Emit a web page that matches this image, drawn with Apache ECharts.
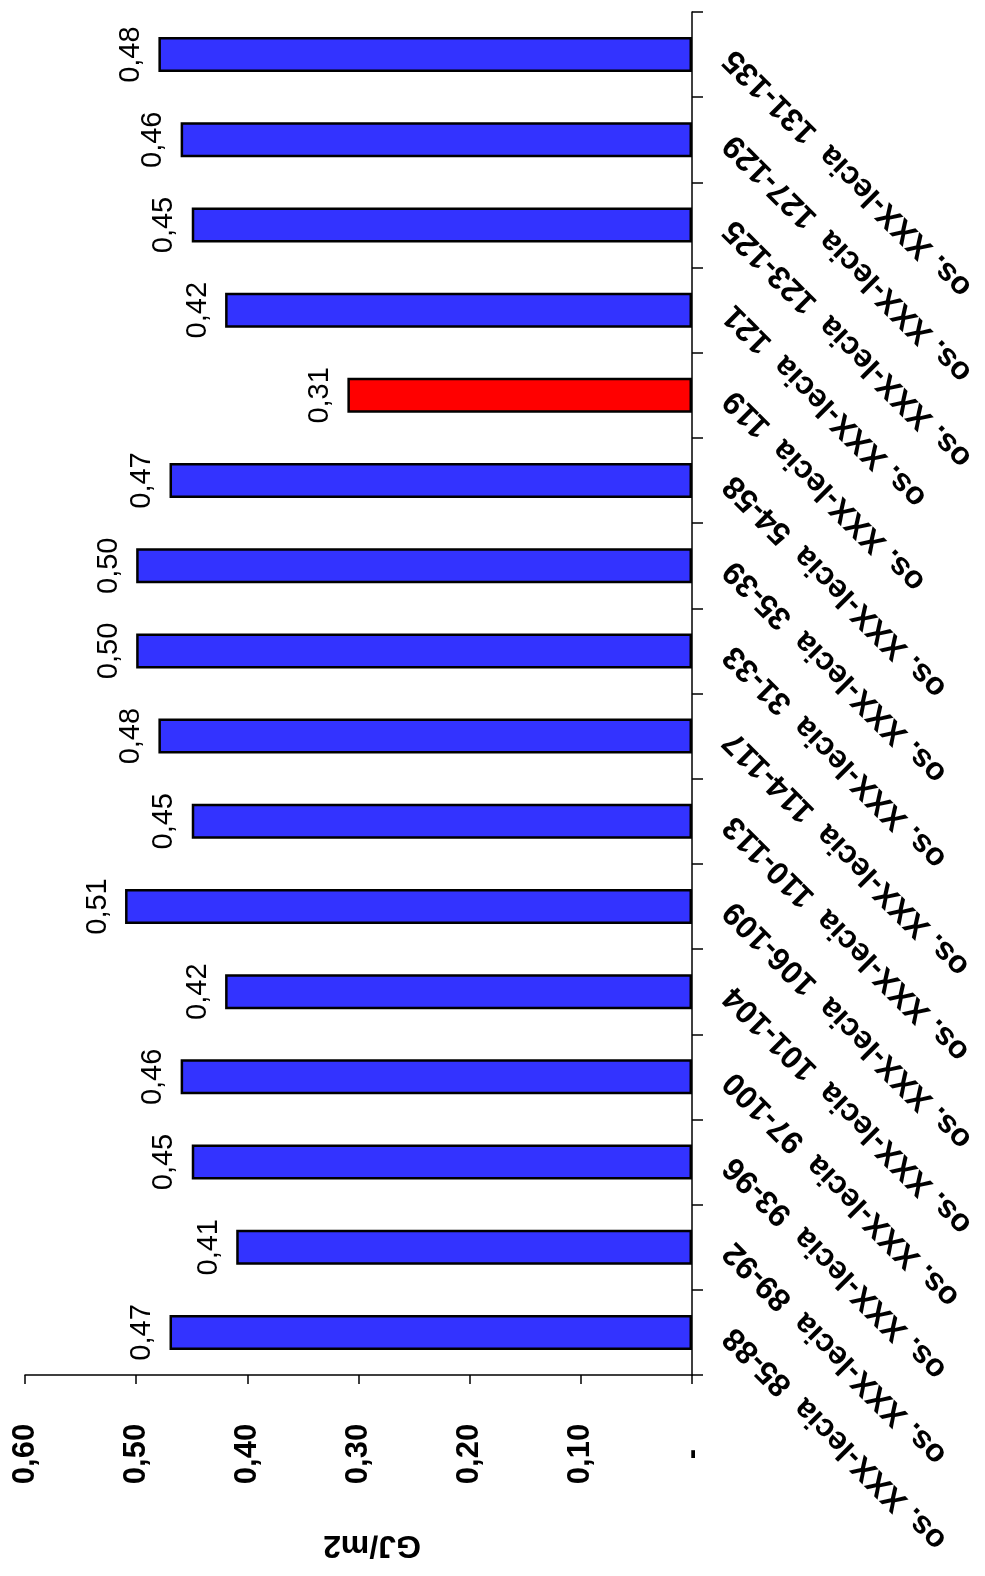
<!DOCTYPE html>
<html>
<head>
<meta charset="utf-8">
<title>GJ/m2</title>
<script src="https://cdn.jsdelivr.net/npm/echarts@6/dist/echarts.min.js"></script>
<style>
  html, body { margin: 0; padding: 0; background: #ffffff; }
  #chart { width: 985px; height: 1576px; }
</style>
</head>
<body>
<div id="chart"></div>
<script>
// Building names (listed from the first bar to the last)
const categories = [
  'os. XXX-lecia  85-88',
  'os. XXX-lecia  89-92',
  'os. XXX-lecia  93-96',
  'os. XXX-lecia  97-100',
  'os. XXX-lecia  101-104',
  'os. XXX-lecia  106-109',
  'os. XXX-lecia  110-113',
  'os. XXX-lecia  114-117',
  'os. XXX-lecia  31-33',
  'os. XXX-lecia  35-39',
  'os. XXX-lecia  54-58',
  'os. XXX-lecia  119',
  'os. XXX-lecia  121',
  'os. XXX-lecia  123-125',
  'os. XXX-lecia  127-129',
  'os. XXX-lecia  131-135'
];

// Heat consumption per m2 [GJ/m2]
const values = [0.47, 0.41, 0.45, 0.46, 0.42, 0.51, 0.45, 0.48, 0.50, 0.50, 0.47, 0.31, 0.42, 0.45, 0.46, 0.48];

// Building shown in red
const highlighted = ['os. XXX-lecia  119'];

// Value axis range
const axisMin = 0;
const axisMax = 0.6;
const axisStep = 0.1;
const axisTitle = 'GJ/m2';

const FONT = "'Liberation Sans', Arial, sans-serif";
const fmt = v => v.toFixed(2).replace('.', ',');

const chart = echarts.init(document.getElementById('chart'));

chart.setOption({
  backgroundColor: '#ffffff',
  animation: false,
  grid: { left: 25, right: 293, top: 12, bottom: 201, containLabel: false },
  xAxis: {
    type: 'value',
    position: 'bottom',
    inverse: true,
    min: axisMin,
    max: axisMax,
    interval: axisStep,
    splitLine: { show: false },
    axisLine: { show: true, lineStyle: { color: '#000', width: 1.5 } },
    axisTick: { show: true, inside: false, length: 9, lineStyle: { color: '#000', width: 1.5 } },
    axisLabel: {
      show: true,
      showMinLabel: true,
      showMaxLabel: true,
      rotate: 90,
      align: 'center',
      verticalAlign: 'middle',
      margin: 79,
      color: '#000',
      fontFamily: FONT,
      fontWeight: 'bold',
      fontSize: 31,
      formatter: v => (Math.abs(v) < 1e-9 ? '-' : fmt(v))
    }
  },
  yAxis: {
    type: 'category',
    position: 'right',
    data: categories,
    boundaryGap: true,
    axisLine: { show: true, lineStyle: { color: '#000', width: 1.5 } },
    axisTick: { show: true, inside: false, length: 11, alignWithLabel: false, interval: 0, lineStyle: { color: '#000', width: 1.5 } },
    splitLine: { show: false },
    axisLabel: {
      show: true,
      interval: 0,
      rotate: 135,
      align: 'right',
      verticalAlign: 'middle',
      margin: 37,
      color: '#000',
      fontFamily: FONT,
      fontWeight: 'bold',
      fontSize: 32
    }
  },
  graphic: [{
    type: 'text',
    x: 372,
    y: 1545,
    rotation: Math.PI,
    style: {
      text: axisTitle,
      fill: '#000',
      font: "bold 32px 'Liberation Sans', Arial, sans-serif",
      align: 'center',
      verticalAlign: 'middle'
    }
  }],
  series: [{
    type: 'bar',
    barWidth: 35,
    data: values.map((v, i) => ({
      value: v,
      itemStyle: {
        color: highlighted.includes(categories[i]) ? '#ff0000' : '#3333ff',
        borderColor: '#000',
        borderWidth: 2.5
      }
    })),
    label: {
      show: true,
      position: 'left',
      distance: 13,
      rotate: 90,
      align: 'center',
      verticalAlign: 'bottom',
      color: '#000',
      fontFamily: FONT,
      fontSize: 29,
      formatter: p => fmt(p.value)
    }
  }]
});
</script>
</body>
</html>
